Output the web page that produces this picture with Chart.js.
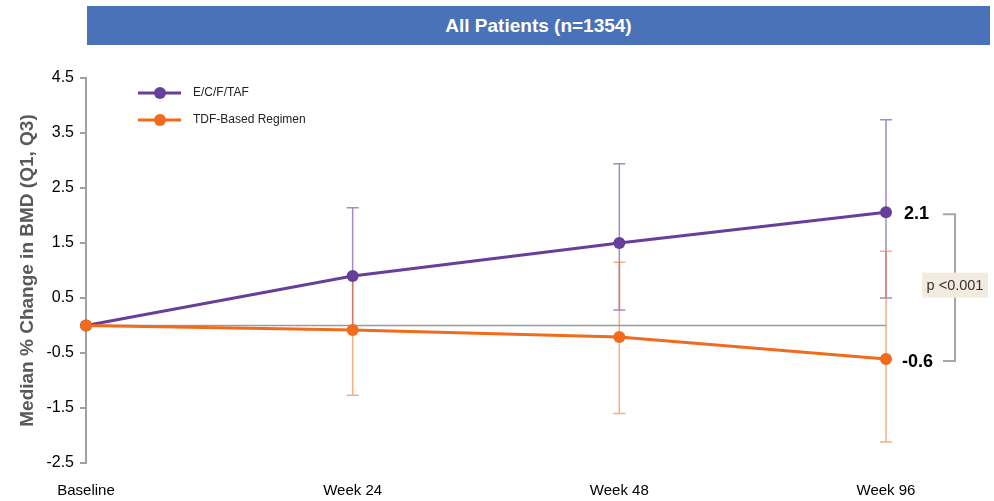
<!DOCTYPE html>
<html lang="en">
<head>
    <meta charset="UTF-8">
    <title>All Patients (n=1354)</title>
    <script src="https://cdn.jsdelivr.net/npm/chart.js"></script>
    <style>
        html, body { margin: 0; padding: 0; background: #fff; }
        #wrap { position: relative; width: 994px; height: 501px; }
        #banner {
            position: absolute; left: 87px; top: 6px; width: 903px; height: 39px;
            background: #4a72b8; color: #fff;
            font: bold 19px "Liberation Sans", Arial, sans-serif;
            display: flex; align-items: center; justify-content: center;
        }
        canvas { position: absolute; left: 0; top: 0; }
    </style>
</head>
<body>
<div id="wrap">
    <canvas id="chart" width="994" height="501"></canvas>
    <div id="banner">All Patients (n=1354)</div>
</div>
<script>
    const categories = ['Baseline', 'Week 24', 'Week 48', 'Week 96'];

    const tafMedian = [0, 0.9, 1.5, 2.06];
    const tafQ1 = [0, -0.1, 0.28, 0.5];
    const tafQ3 = [0, 2.14, 2.94, 3.74];

    const tdfMedian = [0, -0.08, -0.21, -0.61];
    const tdfQ1 = [0, -1.27, -1.6, -2.12];
    const tdfQ3 = [0, 0.9, 1.15, 1.35];

    const zeroLine = [0, 0, 0, 0];
    const pText = 'p <0.001';

    const purple = '#673f9b';
    const orange = '#f26b1d';
    const fontFam = '"Liberation Sans", Arial, sans-serif';

    const series = [
        { label: 'E/C/F/TAF', color: purple, bar: 'rgba(103,63,155,0.6)', med: tafMedian, q1: tafQ1, q3: tafQ3 },
        { label: 'TDF-Based Regimen', color: orange, bar: 'rgba(242,107,29,0.55)', med: tdfMedian, q1: tdfQ1, q3: tdfQ3 }
    ];

    // Q1-Q3 whiskers, drawn under the lines
    const errorBars = {
        id: 'errorBars',
        beforeDatasetsDraw(chart) {
            const ctx = chart.ctx, x = chart.scales.x, y = chart.scales.y;
            ctx.save();
            ctx.lineWidth = 1.5;
            series.forEach(s => {
                ctx.strokeStyle = s.bar;
                s.med.forEach((m, i) => {
                    if (s.q1[i] === s.q3[i]) return;
                    const px = x.getPixelForValue(i);
                    const top = y.getPixelForValue(s.q3[i]);
                    const bot = y.getPixelForValue(s.q1[i]);
                    ctx.beginPath();
                    ctx.moveTo(px, top); ctx.lineTo(px, bot);
                    ctx.moveTo(px - 6, top); ctx.lineTo(px + 6, top);
                    ctx.moveTo(px - 6, bot); ctx.lineTo(px + 6, bot);
                    ctx.stroke();
                });
            });
            ctx.restore();
        }
    };

    // legend, end labels, bracket and p-value box
    const extras = {
        id: 'extras',
        afterDraw(chart) {
            const ctx = chart.ctx, x = chart.scales.x, y = chart.scales.y;
            ctx.save();
            series.forEach((s, i) => {
                const ly = 93 + i * 27;
                ctx.strokeStyle = s.color;
                ctx.lineWidth = 3;
                ctx.beginPath(); ctx.moveTo(138, ly); ctx.lineTo(181, ly); ctx.stroke();
                ctx.fillStyle = s.color;
                ctx.beginPath(); ctx.arc(160, ly, 6, 0, Math.PI * 2); ctx.fill();
                ctx.fillStyle = '#222';
                ctx.font = '12px ' + fontFam;
                ctx.textAlign = 'left'; ctx.textBaseline = 'middle';
                ctx.fillText(s.label, 193, ly);
            });

            const last = categories.length - 1;
            const xr = x.getPixelForValue(last);
            const yTop = y.getPixelForValue(tafMedian[last]);
            const yBot = y.getPixelForValue(tdfMedian[last]);
            ctx.fillStyle = '#000';
            ctx.font = 'bold 18px ' + fontFam;
            ctx.textAlign = 'left';
            ctx.fillText(tafMedian[last].toFixed(1), xr + 18, yTop + 2);
            ctx.fillText(tdfMedian[last].toFixed(1), xr + 16, yBot + 3);

            ctx.strokeStyle = '#a6a6a6';
            ctx.lineWidth = 2;
            ctx.beginPath();
            ctx.moveTo(xr + 57, yTop + 2); ctx.lineTo(xr + 69, yTop + 2);
            ctx.lineTo(xr + 69, yBot + 2); ctx.lineTo(xr + 57, yBot + 2);
            ctx.stroke();

            const cy = (yTop + yBot) / 2;
            ctx.fillStyle = '#f3ebe0';
            ctx.fillRect(xr + 36, cy - 13, 66, 25);
            ctx.fillStyle = '#333';
            ctx.font = '14.5px ' + fontFam;
            ctx.textAlign = 'center';
            ctx.fillText(pText, xr + 69, cy);
            ctx.restore();
        }
    };

    new Chart(document.getElementById('chart'), {
        type: 'line',
        data: {
            labels: categories,
            datasets: [
                {
                    label: series[0].label, data: tafMedian, order: 1,
                    borderColor: purple, backgroundColor: purple, borderWidth: 3,
                    pointRadius: 6, pointBorderWidth: 0, pointHoverRadius: 6
                },
                {
                    label: series[1].label, data: tdfMedian, order: 0,
                    borderColor: orange, backgroundColor: orange, borderWidth: 3,
                    pointRadius: 6, pointBorderWidth: 0, pointHoverRadius: 6
                },
                {
                    label: 'zero', data: zeroLine, order: 2,
                    borderColor: '#9a9a9a', borderWidth: 1.5, pointRadius: 0
                }
            ]
        },
        options: {
            responsive: false,
            animation: false,
            layout: { padding: { top: 78, right: 108, left: 0, bottom: 0 } },
            plugins: { legend: { display: false }, tooltip: { enabled: false } },
            scales: {
                x: {
                    offset: false,
                    border: { display: false },
                    grid: { display: false, drawTicks: false },
                    ticks: { color: '#000', padding: 19, font: { family: fontFam, size: 15 }, maxRotation: 0 },
                    afterFit(scale) { scale.height = 38; }
                },
                y: {
                    min: -2.5, max: 4.5,
                    border: { display: true, color: '#a0a0a0', width: 2 },
                    grid: { drawOnChartArea: false, color: '#a0a0a0', tickLength: 6, lineWidth: 2 },
                    ticks: {
                        stepSize: 1, color: '#000', padding: 6,
                        font: { family: fontFam, size: 16 },
                        callback: v => v.toFixed(1)
                    },
                    title: {
                        display: true, text: 'Median % Change in BMD (Q1, Q3)',
                        color: '#595959', padding: { top: 16, bottom: 0 },
                        font: { family: fontFam, size: 19, weight: 'bold' }
                    },
                    afterFit(scale) { scale.width = 86; }
                }
            }
        },
        plugins: [errorBars, extras]
    });
</script>
</body>
</html>
